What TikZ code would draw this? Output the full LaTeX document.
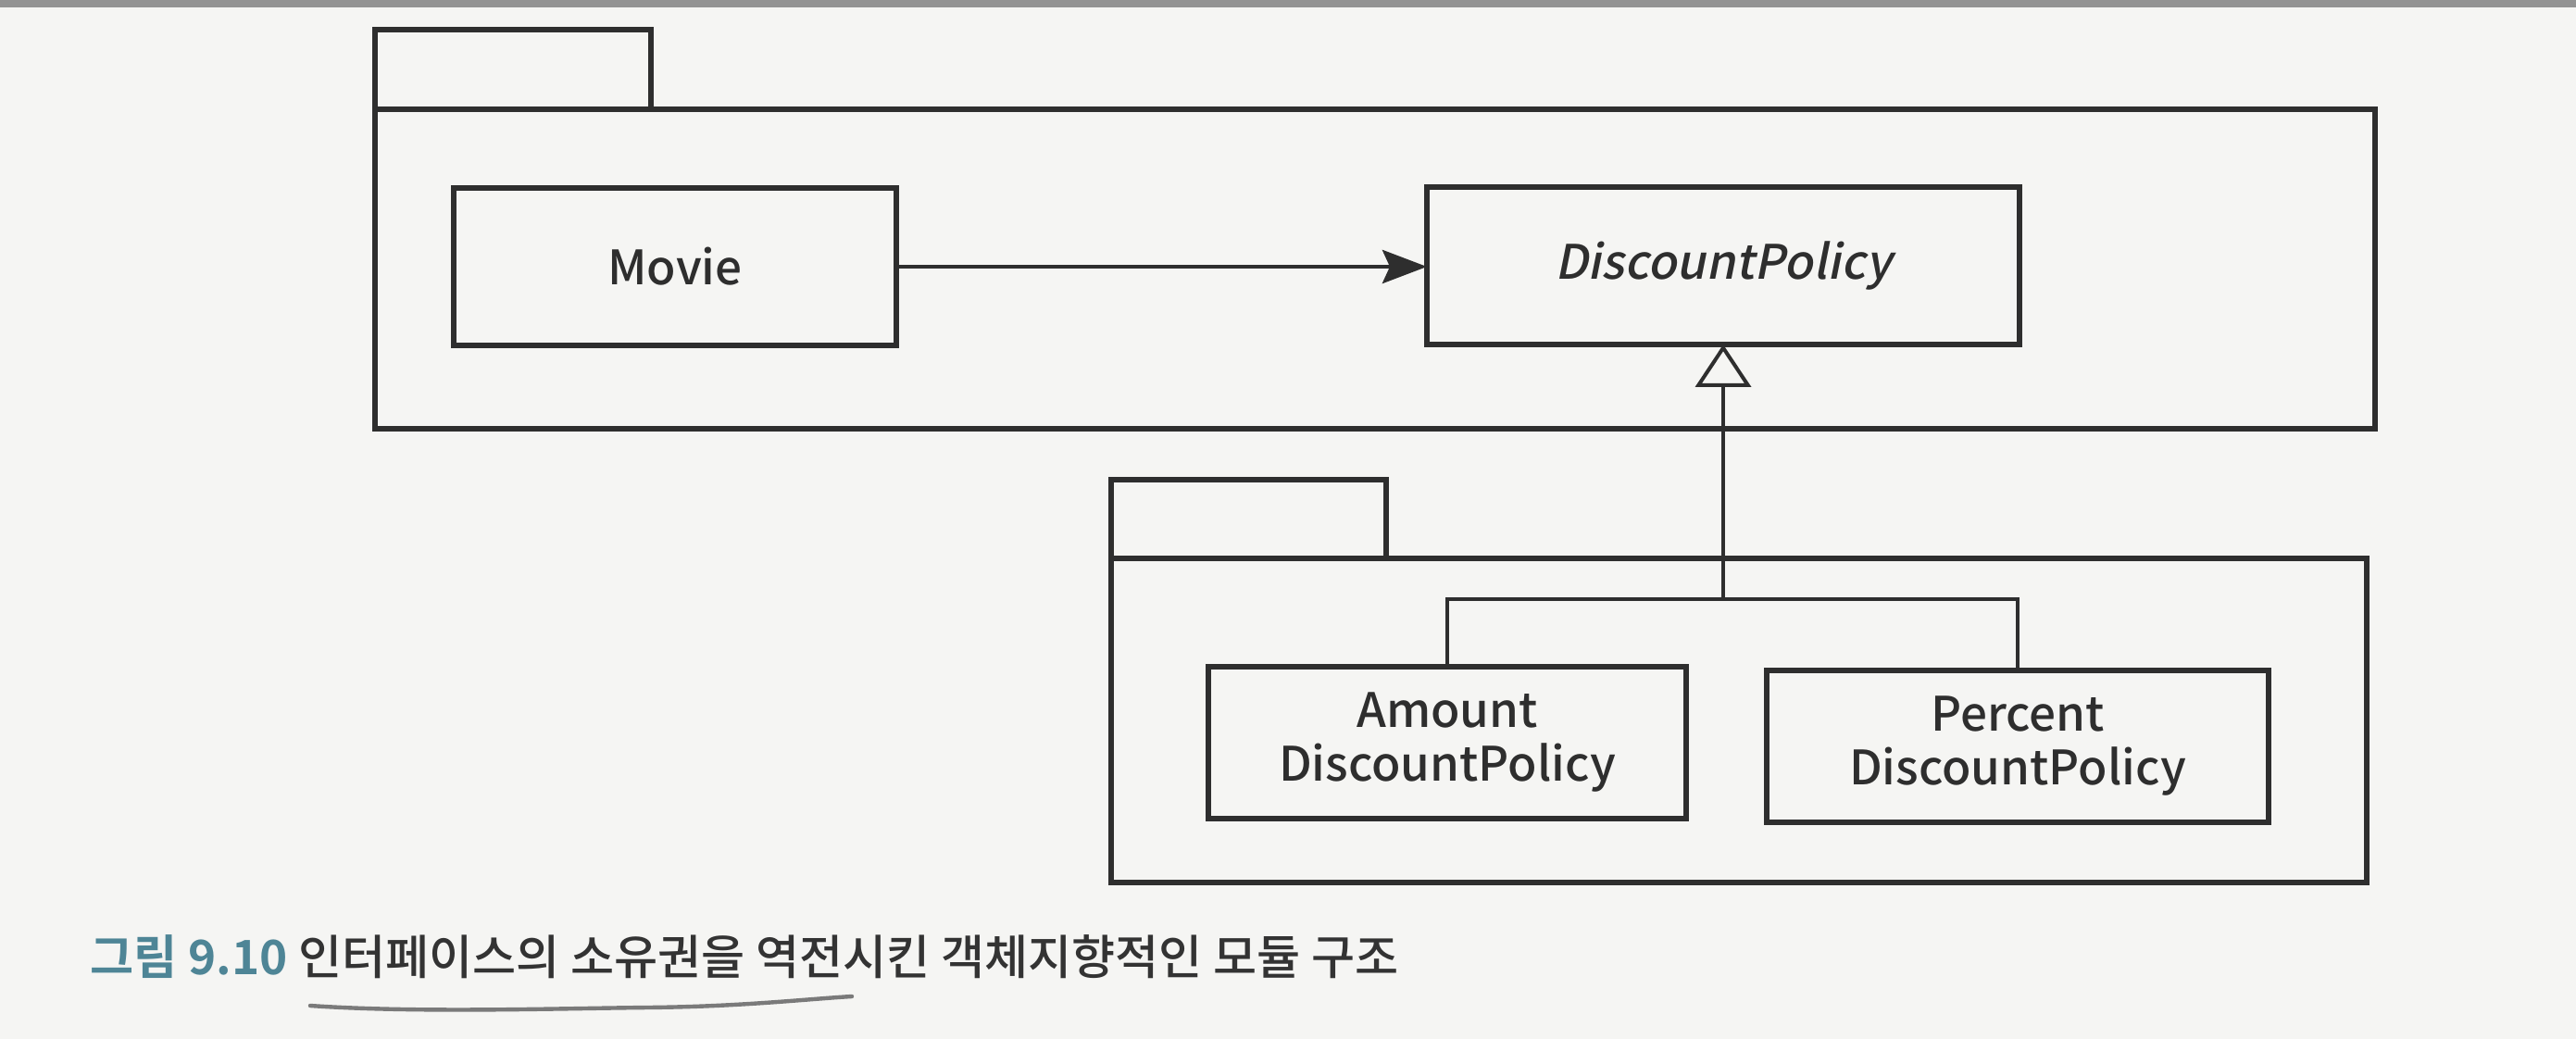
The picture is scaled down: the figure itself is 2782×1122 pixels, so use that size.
\documentclass[tikz,border=0pt]{standalone}
\usepackage{fontspec}
\setmainfont{Noto Sans CJK KR}
\newfontfamily\labfont{Noto Sans CJK KR Medium}[AutoFakeSlant=0.2]
\newfontfamily\capfont{Noto Sans CJK KR Medium}
\newfontfamily\capboldfont{Noto Sans CJK KR Bold}
\usetikzlibrary{arrows.meta}
\definecolor{ink}{HTML}{2E2E2E}
\definecolor{paper}{HTML}{F5F5F3}
\definecolor{capteal}{HTML}{4E8596}
\definecolor{captext}{HTML}{333333}
\definecolor{pencil}{HTML}{7A7A7A}
\begin{document}
\begin{tikzpicture}[x=0.25pt,y=-0.25pt,
  pkg/.style={draw=ink,line width=1.5pt,fill=paper,inner sep=0pt,outer sep=0pt},
  cls/.style={draw=ink,line width=1.5pt,fill=paper,inner sep=0pt,outer sep=0pt,
    font=\labfont\fontsize{12.8}{14.5}\selectfont,text=ink,align=center},
  dep/.style={draw=ink,line width=1.2pt,-{Stealth[length=12pt,width=9pt,inset=2pt]}},
  gen/.style={draw=ink,line width=1pt},
  genhead/.style={draw=ink,line width=1pt,-{Triangle[open,length=11.5pt,width=15pt,fill=paper]}}
]
\useasboundingbox (0,0) rectangle (2782,1122);
\fill[paper] (0,0) rectangle (2782,1122);
\fill[gray!85] (0,0) rectangle (2782,8);

% upper package
\node[pkg,minimum width=74.5pt,minimum height=21.5pt] (uptab) at (554,75) {};
\node[pkg,minimum width=540pt,minimum height=86.25pt] (upbody) at (1485,290.5) {};
% lower package
\node[pkg,minimum width=74.25pt,minimum height=21.25pt] (lotab) at (1348.5,560.5) {};
\node[pkg,minimum width=339pt,minimum height=87.5pt] (lobody) at (1878,778) {};

% classes
\node[cls,minimum width=119.5pt,minimum height=42.5pt] (movie) at (729,288) {Movie};
\node[cls,minimum width=160pt,minimum height=42.5pt] (dp) at (1861,287) {\itshape DiscountPolicy};
\node[cls,minimum width=129pt,minimum height=41pt] (amount) at (1563,802) {Amount\\DiscountPolicy};
\node[cls,minimum width=135.5pt,minimum height=41pt] (percent) at (2179,806) {Percent\\DiscountPolicy};

% connectors
\draw[dep] (movie.east) -- (movie.east -| dp.west);
\coordinate (bar) at (1861,647);
\draw[gen] (amount.north) |- (bar) -| (percent.north);
\draw[genhead] (bar) -- (dp.south);

% caption
\node[anchor=base west,inner sep=0pt,font=\capfont\fontsize{12.8}{15}\selectfont,text=captext] (cap) at (97,1052)
  {\textcolor{capteal}{\capboldfont 그림 9.10}\ 인터페이스의 소유권을 역전시킨 객체지향적인 모듈 구조};
\draw[pencil,line width=1.1pt,line cap=round] (335,1086) .. controls (450,1094) and (600,1089) .. (700,1088) .. controls (800,1087) and (870,1079) .. (920,1076);
\end{tikzpicture}
\end{document}
